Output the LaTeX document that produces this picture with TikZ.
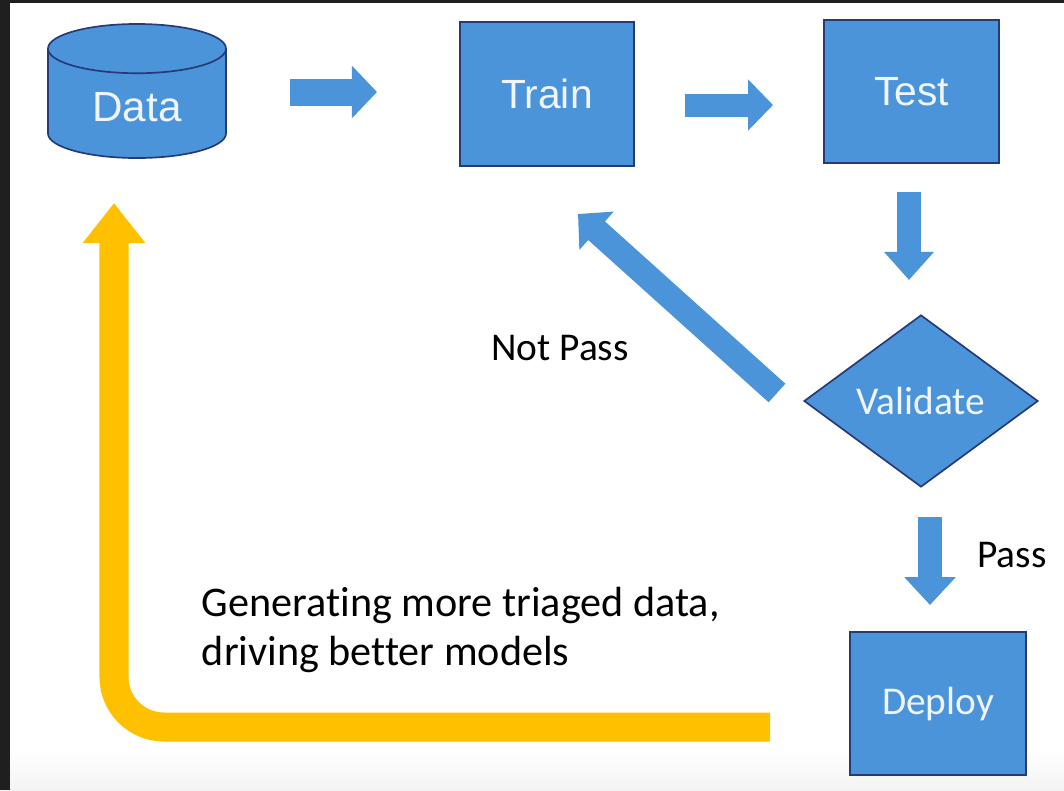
\documentclass[tikz,border=0pt]{standalone}
\usepackage{fontspec}
\setmainfont{Carlito}[Ligatures=NoCommon]
\newfontfamily\boxfont{Liberation Sans}
\usetikzlibrary{arrows.meta,shapes.geometric}

\definecolor{boxblue}{RGB}{76,148,218}
\definecolor{edgeblue}{RGB}{38,58,120}
\definecolor{loopyellow}{RGB}{255,192,0}
\definecolor{boxtext}{RGB}{240,245,251}

\tikzset{
  stage/.style={draw=edgeblue, line width=1.2pt, fill=boxblue, text=boxtext,
    font=\boxfont\fontsize{29}{34}\selectfont},
  blockarrow/.style={draw=boxblue, line width=#1},
  note/.style={font=\fontsize{28}{34}\selectfont, text=black}
}

\begin{document}
\begin{tikzpicture}[x=0.025cm,y=-0.025cm]
	\useasboundingbox (0,0) rectangle (1064,790);
	% background and screen edge
	\fill[white] (0,0) rectangle (1064,790);
	\shade[top color=white, bottom color=gray!9] (0,748) rectangle (1064,790);
	\fill[black!88] (0,0) rectangle (10,790);
	\fill[black!88] (0,0) rectangle (1064,2.5);

	% stages
	\node[stage, cylinder, shape border rotate=90, aspect=0.5, anchor=shape center,
		minimum width=4.45cm, minimum height=3.35cm, font=\boxfont\fontsize{30}{34}\selectfont]
		(data) at (137,91) {Data};
	\node[stage, minimum width=4.35cm, minimum height=3.6cm] (train) at (547,94) {Train};
	\node[stage, minimum width=4.375cm, minimum height=3.575cm] (test) at (911.5,91.5) {Test};
	\node[stage, diamond, inner sep=0pt, minimum width=5.85cm, minimum height=4.3cm,
		font=\fontsize{28}{34}\selectfont] (validate) at (921,401) {Validate};
	\node[stage, minimum width=4.4cm, minimum height=3.575cm,
		font=\fontsize{28}{34}\selectfont] (deploy) at (938,703.5) {Deploy};

	% labels
	\node[note] (notpass) at (560,348) {Not Pass};
	\node[note] (pass) at (1012,555) {Pass};
	\node[note, anchor=west, align=left, font=\fontsize{30}{35.5}\selectfont]
		(loopnote) at (197,630) {Generating more triaged data,\\driving better models};

	% arrow ends
	\coordinate (dataout) at (290,92);   \coordinate (trainin) at (377,92);
	\coordinate (trainout) at (685,105); \coordinate (testin) at (773,105);
	\coordinate (testout) at (909,192);  \coordinate (validin) at (909,280);
	\coordinate (failout) at (777,393);  \coordinate (retrain) at (578,214);
	\coordinate (passout) at (930,517);  \coordinate (deployin) at (930,605);
	\coordinate (loopout) at (770,727);  \coordinate (loopin) at (114,203);

	\draw[blockarrow=0.675cm, -{Triangle[length=0.625cm,width=1.275cm]}] (dataout) -- (trainin);
	\draw[blockarrow=0.575cm, -{Triangle[length=0.625cm,width=1.25cm]}] (trainout) -- (testin);
	\draw[blockarrow=0.6cm, -{Triangle[length=0.7cm,width=1.2cm]}] (testout) -- (validin);
	\draw[blockarrow=0.625cm, -{Triangle[length=0.625cm,width=1.25cm]}] (failout) -- (retrain);
	\draw[blockarrow=0.6cm, -{Triangle[length=0.7cm,width=1.25cm]}] (passout) -- (deployin);
	\draw[draw=loopyellow, line width=0.725cm, rounded corners=1.25cm,
		-{Triangle[length=1cm,width=1.5cm]}] (loopout) -| (loopin);
\end{tikzpicture}
\end{document}
